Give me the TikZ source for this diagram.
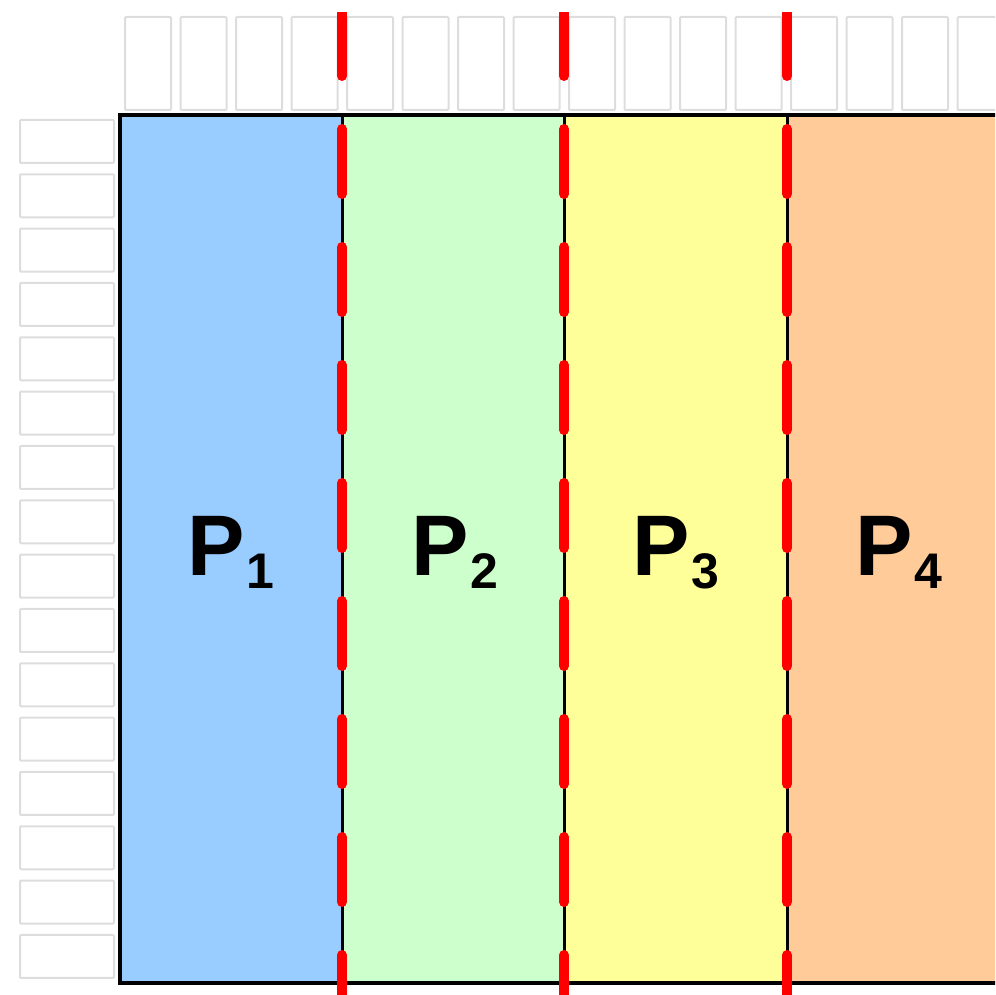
\documentclass[tikz,border=0pt]{standalone}
\usepackage{fontspec}
\setmainfont{Liberation Sans}
\definecolor{pblue}{HTML}{99CCFF}
\definecolor{pgreen}{HTML}{CCFFCC}
\definecolor{pyellow}{HTML}{FFFF99}
\definecolor{porange}{HTML}{FFCC99}
\definecolor{cellgray}{HTML}{DDDDDD}
\newcommand{\plabel}[1]{\bfseries\fontsize{86}{86}\selectfont P\kern2pt\raisebox{-13pt}{\fontsize{50}{50}\selectfont #1}}
\begin{document}
\begin{tikzpicture}[x=1pt,y=-1pt,
  cell/.style={draw=cellgray, line width=2pt, rounded corners=1pt},
  sep/.style={draw=black, line width=3pt},
  border/.style={draw=black, line width=3.5pt},
  cut/.style={draw=red, line width=10pt, line cap=round, dash pattern=on 65pt off 53pt, dash phase=2pt},
  plab/.style={anchor=base, inner sep=0pt}]
\useasboundingbox (0,0) rectangle (995,995);
\clip (0,0) rectangle (995,995);
% top cells
\foreach \i in {0,...,15}
  \draw[cell] ({125+55.5*\i},17) rectangle ++(46,93);
% left cells
\foreach \i in {0,...,15}
  \draw[cell] (20,{120+54.33*\i}) rectangle ++(94,43);
% partition fills
\fill[pblue] (120,115) rectangle (342,983);
\fill[pgreen] (342,115) rectangle (564,983);
\fill[pyellow] (564,115) rectangle (787,983);
\fill[porange] (787,115) rectangle (1030,983);
% separators
\coordinate (s1t) at (342,115); \coordinate (s1b) at (342,983);
\coordinate (s2t) at (564,115); \coordinate (s2b) at (564,983);
\coordinate (s3t) at (787,115); \coordinate (s3b) at (787,983);
\draw[sep] (s1t) -- (s1b);
\draw[sep] (s2t) -- (s2b);
\draw[sep] (s3t) -- (s3b);
% outer border
\draw[border] (1030,115) -- (120,115) -- (120,983) -- (1030,983);
% red cut lines
\begin{scope}
  \clip (0,13) rectangle (995,995);
  \coordinate (c1t) at (342,13); \coordinate (c1b) at (342,1010);
  \coordinate (c2t) at (564,13); \coordinate (c2b) at (564,1010);
  \coordinate (c3t) at (787,13); \coordinate (c3b) at (787,1010);
  \draw[cut] (c1t) -- (c1b);
  \draw[cut] (c2t) -- (c2b);
  \draw[cut] (c3t) -- (c3b);
\end{scope}
% labels
\node[plab] (p1) at (231,575) {\plabel{1}};
\node[plab] (p2) at (455,575) {\plabel{2}};
\node[plab] (p3) at (676,575) {\plabel{3}};
\node[plab] (p4) at (899,575) {\plabel{4}};
\end{tikzpicture}
\end{document}
